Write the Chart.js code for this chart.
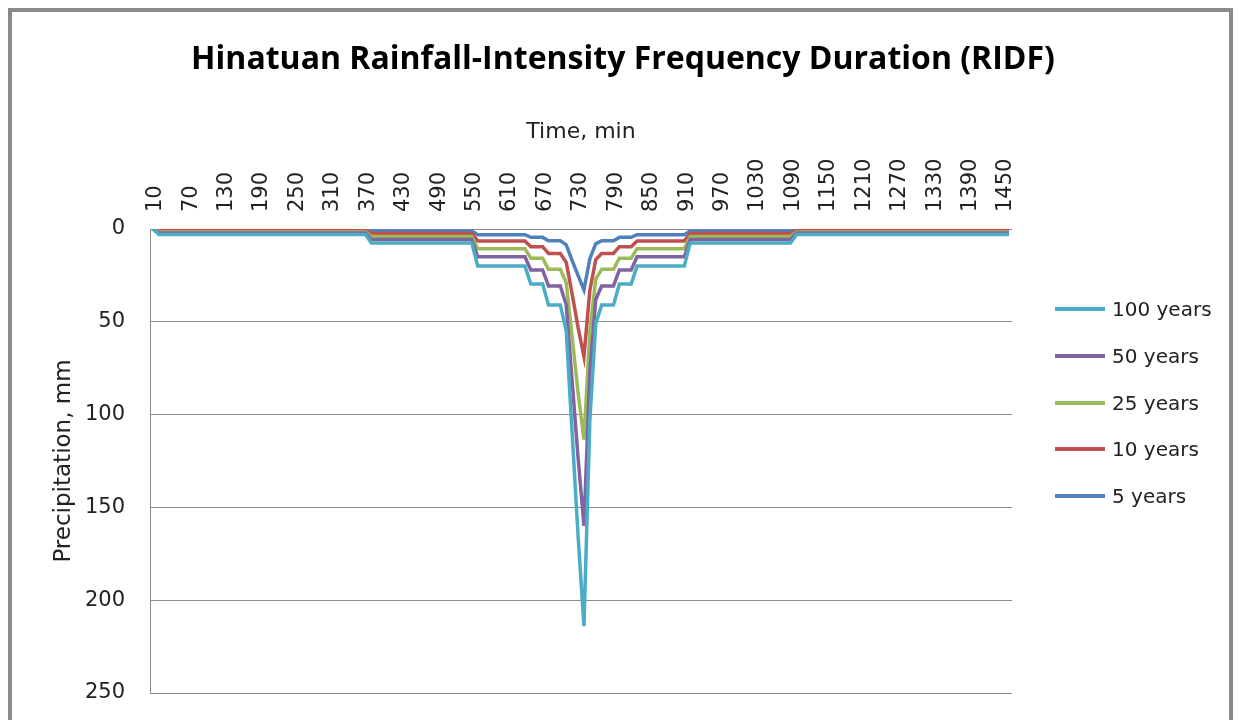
<!DOCTYPE html>
<html>
<head>
<meta charset="utf-8">
<script src="https://cdn.jsdelivr.net/npm/chart.js@4.4.1/dist/chart.umd.min.js"></script>
<style>
  body { margin: 0; background: #fff; }
  #wrap { position: relative; width: 1239px; height: 720px; overflow: hidden; }
  #frame { position: absolute; left: 8px; top: 8px; width: 1217px; height: 760px; border: 4px solid #8a8a8a; }
  #title { position: absolute; left: 0; width: 1246px; top: 37px; line-height: 40px; text-align: center;
           font-family: "Open Sans", sans-serif; font-weight: bold; font-size: 32px; color: #000; }
  #legend { position: absolute; left: 0; top: 0; font-family: "DejaVu Sans", sans-serif; font-size: 20px; color: #222; }
  .item { position: absolute; left: 1055px; height: 24px; white-space: nowrap; }
  .item .ln { position: absolute; left: 0; top: 10px; width: 50px; height: 4px; }
  .item span { position: absolute; left: 57px; top: 0; line-height: 24px; }
</style>
</head>
<body>
<div id="wrap">
  <div id="frame"></div>
  <canvas id="rainChart" width="1239" height="720"></canvas>
  <div id="title">Hinatuan Rainfall-Intensity Frequency Duration (RIDF)</div>
  <div id="legend"></div>
</div>
<script>
// time axis, minutes
var times = [
  10, 20, 30, 40, 50, 60, 70, 80, 90, 100, 110, 120,
  130, 140, 150, 160, 170, 180, 190, 200, 210, 220, 230, 240,
  250, 260, 270, 280, 290, 300, 310, 320, 330, 340, 350, 360,
  370, 380, 390, 400, 410, 420, 430, 440, 450, 460, 470, 480,
  490, 500, 510, 520, 530, 540, 550, 560, 570, 580, 590, 600,
  610, 620, 630, 640, 650, 660, 670, 680, 690, 700, 710, 720,
  730, 740, 750, 760, 770, 780, 790, 800, 810, 820, 830, 840,
  850, 860, 870, 880, 890, 900, 910, 920, 930, 940, 950, 960,
  970, 980, 990, 1000, 1010, 1020, 1030, 1040, 1050, 1060, 1070, 1080,
  1090, 1100, 1110, 1120, 1130, 1140, 1150, 1160, 1170, 1180, 1190, 1200,
  1210, 1220, 1230, 1240, 1250, 1260, 1270, 1280, 1290, 1300, 1310, 1320,
  1330, 1340, 1350, 1360, 1370, 1380, 1390, 1400, 1410, 1420, 1430, 1440,
  1450, 1460
];
var tickLabels = [10, 70, 130, 190, 250, 310, 370, 430, 490, 550, 610, 670, 730,
  790, 850, 910, 970, 1030, 1090, 1150, 1210, 1270, 1330, 1390, 1450];

var years100 = [
  0,
  3, 3, 3, 3, 3, 3, 3, 3, 3, 3, 3, 3,
  3, 3, 3, 3, 3, 3, 3, 3, 3, 3, 3, 3,
  3, 3, 3, 3, 3, 3, 3, 3, 3, 3, 3, 3,
  7.5, 7.5, 7.5, 7.5, 7.5, 7.5, 7.5, 7.5, 7.5,
  7.5, 7.5, 7.5, 7.5, 7.5, 7.5, 7.5, 7.5, 7.5,
  20, 20, 20, 20, 20, 20, 20, 20, 20,
  29.6, 29.6, 29.6,
  41, 41, 41,
  55, 110, 165, 214, 103, 51,
  41, 41, 41,
  29.6, 29.6, 29.6,
  20, 20, 20, 20, 20, 20, 20, 20, 20,
  7.5, 7.5, 7.5, 7.5, 7.5, 7.5, 7.5, 7.5, 7.5,
  7.5, 7.5, 7.5, 7.5, 7.5, 7.5, 7.5, 7.5, 7.5,
  3, 3, 3, 3, 3, 3, 3, 3, 3, 3, 3, 3,
  3, 3, 3, 3, 3, 3, 3, 3, 3, 3, 3, 3,
  3, 3, 3, 3, 3, 3, 3, 3, 3, 3, 3, 3, 3
];
var years50 = [
  0,
  2.2, 2.2, 2.2, 2.2, 2.2, 2.2, 2.2, 2.2, 2.2, 2.2, 2.2, 2.2,
  2.2, 2.2, 2.2, 2.2, 2.2, 2.2, 2.2, 2.2, 2.2, 2.2, 2.2, 2.2,
  2.2, 2.2, 2.2, 2.2, 2.2, 2.2, 2.2, 2.2, 2.2, 2.2, 2.2, 2.2,
  5.6, 5.6, 5.6, 5.6, 5.6, 5.6, 5.6, 5.6, 5.6,
  5.6, 5.6, 5.6, 5.6, 5.6, 5.6, 5.6, 5.6, 5.6,
  15, 15, 15, 15, 15, 15, 15, 15, 15,
  22.1, 22.1, 22.1,
  30.7, 30.7, 30.7,
  41, 82, 123, 160, 77, 38,
  30.7, 30.7, 30.7,
  22.1, 22.1, 22.1,
  15, 15, 15, 15, 15, 15, 15, 15, 15,
  5.6, 5.6, 5.6, 5.6, 5.6, 5.6, 5.6, 5.6, 5.6,
  5.6, 5.6, 5.6, 5.6, 5.6, 5.6, 5.6, 5.6, 5.6,
  2.2, 2.2, 2.2, 2.2, 2.2, 2.2, 2.2, 2.2, 2.2, 2.2, 2.2, 2.2,
  2.2, 2.2, 2.2, 2.2, 2.2, 2.2, 2.2, 2.2, 2.2, 2.2, 2.2, 2.2,
  2.2, 2.2, 2.2, 2.2, 2.2, 2.2, 2.2, 2.2, 2.2, 2.2, 2.2, 2.2, 2.2
];
var years25 = [
  0,
  1.6, 1.6, 1.6, 1.6, 1.6, 1.6, 1.6, 1.6, 1.6, 1.6, 1.6, 1.6,
  1.6, 1.6, 1.6, 1.6, 1.6, 1.6, 1.6, 1.6, 1.6, 1.6, 1.6, 1.6,
  1.6, 1.6, 1.6, 1.6, 1.6, 1.6, 1.6, 1.6, 1.6, 1.6, 1.6, 1.6,
  4, 4, 4, 4, 4, 4, 4, 4, 4,
  4, 4, 4, 4, 4, 4, 4, 4, 4,
  10.6, 10.6, 10.6, 10.6, 10.6, 10.6, 10.6, 10.6, 10.6,
  15.7, 15.7, 15.7,
  21.7, 21.7, 21.7,
  29, 58, 88, 113.5, 55, 27,
  21.7, 21.7, 21.7,
  15.7, 15.7, 15.7,
  10.6, 10.6, 10.6, 10.6, 10.6, 10.6, 10.6, 10.6, 10.6,
  4, 4, 4, 4, 4, 4, 4, 4, 4,
  4, 4, 4, 4, 4, 4, 4, 4, 4,
  1.6, 1.6, 1.6, 1.6, 1.6, 1.6, 1.6, 1.6, 1.6, 1.6, 1.6, 1.6,
  1.6, 1.6, 1.6, 1.6, 1.6, 1.6, 1.6, 1.6, 1.6, 1.6, 1.6, 1.6,
  1.6, 1.6, 1.6, 1.6, 1.6, 1.6, 1.6, 1.6, 1.6, 1.6, 1.6, 1.6, 1.6
];
var years10 = [
  0,
  1, 1, 1, 1, 1, 1, 1, 1, 1, 1, 1, 1,
  1, 1, 1, 1, 1, 1, 1, 1, 1, 1, 1, 1,
  1, 1, 1, 1, 1, 1, 1, 1, 1, 1, 1, 1,
  2.4, 2.4, 2.4, 2.4, 2.4, 2.4, 2.4, 2.4, 2.4,
  2.4, 2.4, 2.4, 2.4, 2.4, 2.4, 2.4, 2.4, 2.4,
  6.4, 6.4, 6.4, 6.4, 6.4, 6.4, 6.4, 6.4, 6.4,
  9.5, 9.5, 9.5,
  13.2, 13.2, 13.2,
  18, 35, 53, 68.7, 33, 16.5,
  13.2, 13.2, 13.2,
  9.5, 9.5, 9.5,
  6.4, 6.4, 6.4, 6.4, 6.4, 6.4, 6.4, 6.4, 6.4,
  2.4, 2.4, 2.4, 2.4, 2.4, 2.4, 2.4, 2.4, 2.4,
  2.4, 2.4, 2.4, 2.4, 2.4, 2.4, 2.4, 2.4, 2.4,
  1, 1, 1, 1, 1, 1, 1, 1, 1, 1, 1, 1,
  1, 1, 1, 1, 1, 1, 1, 1, 1, 1, 1, 1,
  1, 1, 1, 1, 1, 1, 1, 1, 1, 1, 1, 1, 1
];
var years5 = [
  0,
  0.5, 0.5, 0.5, 0.5, 0.5, 0.5, 0.5, 0.5, 0.5, 0.5, 0.5, 0.5,
  0.5, 0.5, 0.5, 0.5, 0.5, 0.5, 0.5, 0.5, 0.5, 0.5, 0.5, 0.5,
  0.5, 0.5, 0.5, 0.5, 0.5, 0.5, 0.5, 0.5, 0.5, 0.5, 0.5, 0.5,
  1.1, 1.1, 1.1, 1.1, 1.1, 1.1, 1.1, 1.1, 1.1,
  1.1, 1.1, 1.1, 1.1, 1.1, 1.1, 1.1, 1.1, 1.1,
  3.1, 3.1, 3.1, 3.1, 3.1, 3.1, 3.1, 3.1, 3.1,
  4.5, 4.5, 4.5,
  6.3, 6.3, 6.3,
  8.5, 17, 25, 32.8, 16, 8,
  6.3, 6.3, 6.3,
  4.5, 4.5, 4.5,
  3.1, 3.1, 3.1, 3.1, 3.1, 3.1, 3.1, 3.1, 3.1,
  1.1, 1.1, 1.1, 1.1, 1.1, 1.1, 1.1, 1.1, 1.1,
  1.1, 1.1, 1.1, 1.1, 1.1, 1.1, 1.1, 1.1, 1.1,
  0.5, 0.5, 0.5, 0.5, 0.5, 0.5, 0.5, 0.5, 0.5, 0.5, 0.5, 0.5,
  0.5, 0.5, 0.5, 0.5, 0.5, 0.5, 0.5, 0.5, 0.5, 0.5, 0.5, 0.5,
  0.5, 0.5, 0.5, 0.5, 0.5, 0.5, 0.5, 0.5, 0.5, 0.5, 0.5, 0.5, 0.5
];

var seriesNames = ['100 years', '50 years', '25 years', '10 years', '5 years'];
var seriesColors = ['#4BACC6', '#8064A2', '#9BBB59', '#C0504D', '#4F81BD'];
var seriesData = [years100, years50, years25, years10, years5];

var font = 'DejaVu Sans';
var gridColor = '#8c8c8c';

var datasets = seriesData.map(function (d, i) {
    return {
        label: seriesNames[i],
        data: d,
        borderColor: seriesColors[i],
        backgroundColor: seriesColors[i],
        borderWidth: 3.5,
        pointRadius: 0,
        tension: 0,
        fill: false
    };
});

var ctx = document.getElementById('rainChart').getContext('2d');
var chart = new Chart(ctx, {
    type: 'line',
    data: { labels: times, datasets: datasets },
    options: {
        responsive: false,
        animation: false,
        layout: { padding: { left: 50, right: 227, top: 85, bottom: 27 } },
        plugins: {
            legend: { display: false },
            tooltip: { enabled: false }
        },
        scales: {
            x: {
                position: 'top',
                offset: true,
                grid: { display: false },
                border: { display: false },
                ticks: {
                    autoSkip: false,
                    maxRotation: 90,
                    minRotation: 90,
                    padding: 9,
                    labelOffset: 28,
                    color: '#222',
                    font: { family: font, size: 21 },
                    callback: function (val, idx) {
                        var t = times[idx];
                        return tickLabels.indexOf(t) >= 0 ? String(t) : '';
                    }
                },
                title: {
                    display: true,
                    text: 'Time, min',
                    color: '#222',
                    font: { family: font, size: 22 },
                    padding: { top: 34, bottom: 0 }
                },
                afterFit: function (scale) { scale.height = 144; }
            },
            y: {
                reverse: true,
                min: 0,
                max: 250,
                // invisible tick marks keep the labels away from the axis
                grid: { color: gridColor, lineWidth: 1, drawTicks: true, tickLength: 22, tickColor: 'rgba(0,0,0,0)' },
                border: { display: true, color: gridColor, width: 1 },
                ticks: {
                    stepSize: 50,
                    padding: 3,
                    color: '#222',
                    font: { family: font, size: 21 }
                },
                title: {
                    display: true,
                    text: 'Precipitation, mm',
                    color: '#222',
                    font: { family: font, size: 23 },
                    padding: 0
                },
                afterFit: function (scale) { scale.width = 100; }
            }
        }
    }
});

// legend, same order as the reference
var legend = document.getElementById('legend');
chart.data.datasets.forEach(function (ds, i) {
    var item = document.createElement('div');
    item.className = 'item';
    item.style.top = (297 + i * 46.75) + 'px';
    item.innerHTML = '<div class="ln" style="background:' + ds.borderColor + '"></div><span>' + ds.label + '</span>';
    legend.appendChild(item);
});
</script>
</body>
</html>
